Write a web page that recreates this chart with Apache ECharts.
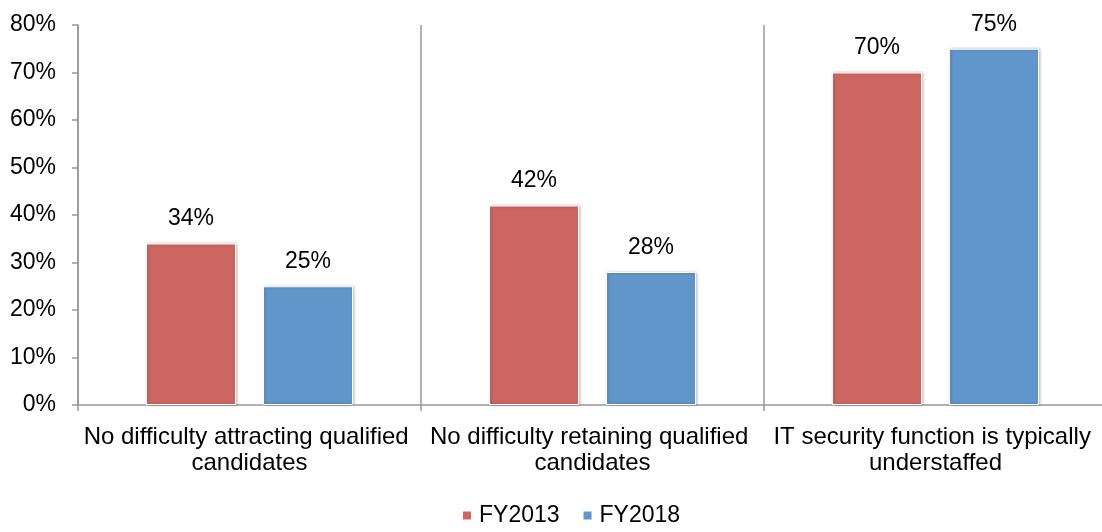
<!DOCTYPE html>
<html>
<head>
<meta charset="utf-8">
<script src="https://cdn.jsdelivr.net/npm/echarts@6/dist/echarts.min.js"></script>
<style>
    html, body { margin: 0; padding: 0; background: #fff; }
    #main { width: 1102px; height: 532px; }
</style>
</head>
<body>
<div id="main"></div>
<script>
var categories = ['No difficulty attracting qualified candidates', 'No difficulty retaining qualified candidates', 'IT security function is typically understaffed'];
var fy2013 = [34, 42, 70];
var fy2018 = [25, 28, 75];
var seriesNames = ['FY2013', 'FY2018'];

var chart = echarts.init(document.getElementById('main'));

var barStyle = function (color) {
    return {
        color: color,
        borderColor: '#ffffff',
        borderWidth: 1,
        shadowBlur: 3,
        shadowOffsetX: 1,
        shadowOffsetY: 0,
        shadowColor: 'rgba(0,0,0,0.25)'
    };
};

var labelStyle = {
    show: true,
    position: 'top',
    distance: 13,
    color: '#000',
    fontSize: 23,
    formatter: '{c}%'
};

var option = {
    animation: false,
    textStyle: { fontFamily: '"Liberation Sans", Arial, sans-serif' },
    legend: {
        data: seriesNames,
        bottom: 0,
        left: 456,
        itemWidth: 10,
        itemHeight: 10,
        itemGap: 22,
        icon: 'rect',
        textStyle: { fontSize: 23, color: '#000', padding: [0, 0, 0, 2] }
    },
    grid: {
        left: 78,
        top: 25,
        width: 1029,
        height: 380,
        outerBoundsMode: 'none',
        containLabel: false
    },
    xAxis: {
        type: 'category',
        data: categories,
        axisLine: { lineStyle: { color: '#999', width: 1.5 } },
        axisTick: { show: true, length: 6, lineStyle: { color: '#999', width: 1.5 } },
        splitLine: { show: true, lineStyle: { color: '#999', width: 1.5 } },
        axisLabel: {
            color: '#000',
            fontSize: 24,
            lineHeight: 26,
            margin: 19,
            width: 340,
            overflow: 'break',
            interval: 0
        }
    },
    yAxis: {
        type: 'value',
        min: 0,
        max: 80,
        interval: 10,
        axisLine: { show: true, lineStyle: { color: '#999', width: 1.5 } },
        axisTick: { show: true, length: 6, lineStyle: { color: '#999', width: 1.5 } },
        splitLine: { show: false },
        axisLabel: { color: '#000', fontSize: 23, margin: 22, formatter: '{value}%' }
    },
    series: [
        {
            name: seriesNames[0],
            type: 'bar',
            data: fy2013,
            barWidth: 90,
            barGap: '30%',
            itemStyle: barStyle('#CD6661'),
            label: labelStyle
        },
        {
            name: seriesNames[1],
            type: 'bar',
            data: fy2018,
            barWidth: 90,
            barGap: '30%',
            itemStyle: barStyle('#6096CA'),
            label: labelStyle
        }
    ]
};

chart.setOption(option);
</script>
</body>
</html>
